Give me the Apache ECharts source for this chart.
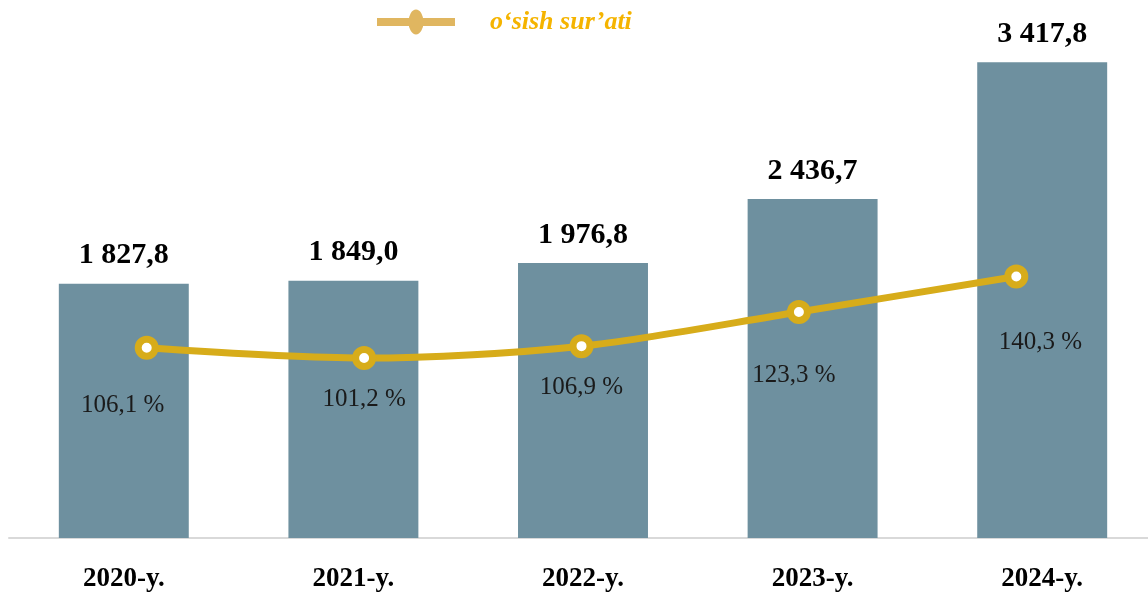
<!DOCTYPE html>
<html>
<head>
<meta charset="utf-8">
<script src="https://cdn.jsdelivr.net/npm/echarts@6/dist/echarts.min.js"></script>
<style>
    html, body {margin: 0; padding: 0; background: #fff;}
    #chart {width: 1148px; height: 592px;}
</style>
</head>
<body>
<div id="chart"></div>
<script>
var years = ['2020-y.', '2021-y.', '2022-y.', '2023-y.', '2024-y.'];
var volume = [1827.8, 1849.0, 1976.8, 2436.7, 3417.8];
var growth = [106.1, 101.2, 106.9, 123.3, 140.3];
var growthName = 'o‘sish sur’ati';
// label offsets under the line points
var growthLabelOffset = [[-24, 28], [0, 12], [0, 12], [-5, 34], [24, 37]];

function fmt(v, digits) {
    var s = v.toFixed(digits).split('.');
    var intPart = s[0].replace(/\B(?=(\d{3})+(?!\d))/g, ' ');
    return intPart + ',' + s[1];
}

var serif = '"Liberation Serif", "DejaVu Serif", serif';

var option = {
    animation: false,
    legend: {
        top: 4,
        left: 372,
        itemWidth: 78,
        itemHeight: 25,
        icon: 'path://M0,8.5 H78 V16.5 H0 Z M31.5,12.5 A7.5,12.5 0 1 1 46.5,12.5 A7.5,12.5 0 1 1 31.5,12.5 Z',
        data: [{name: growthName, itemStyle: {color: '#E0B660', borderWidth: 0}}],
        textStyle: {
            fontFamily: serif,
            fontSize: 26,
            fontWeight: 'bold',
            fontStyle: 'italic',
            color: '#F5B400',
            padding: [0, 0, 0, 30]
        }
    },
    grid: [
        {left: 9, width: 1148, top: 37, bottom: 54, outerBoundsMode: 'none'},
        {left: 38, right: 23, top: 37, bottom: 54, outerBoundsMode: 'none'}
    ],
    xAxis: [
        {
            type: 'category',
            gridIndex: 0,
            data: years,
            axisLine: {lineStyle: {color: '#D9D9D9', width: 2}},
            axisTick: {show: false},
            axisLabel: {
                margin: 28,
                fontFamily: serif,
                fontSize: 27,
                fontWeight: 'bold',
                color: '#000'
            }
        },
        {
            type: 'category',
            gridIndex: 1,
            data: years,
            show: false
        }
    ],
    yAxis: [
        {
            type: 'value',
            gridIndex: 0,
            min: 0,
            max: 3600,
            show: false,
            splitLine: {show: false}
        },
        {
            type: 'value',
            gridIndex: 1,
            min: 15,
            max: 255,
            show: false,
            splitLine: {show: false}
        }
    ],
    series: [
        {
            name: 'hajm',
            type: 'bar',
            xAxisIndex: 0,
            yAxisIndex: 0,
            barWidth: '56.6%',
            itemStyle: {color: '#6E909F'},
            label: {
                show: true,
                position: 'top',
                distance: 13,
                fontFamily: serif,
                fontSize: 30,
                fontWeight: 'bold',
                color: '#000',
                formatter: function (p) { return fmt(p.value, 1); }
            },
            data: volume
        },
        {
            name: growthName,
            type: 'line',
            xAxisIndex: 1,
            yAxisIndex: 1,
            smooth: 0.3,
            symbol: 'circle',
            symbolSize: 17,
            lineStyle: {color: '#D7AC1A', width: 7},
            itemStyle: {color: '#FFFFFF', borderColor: '#D7AC1A', borderWidth: 7},
            label: {
                show: true,
                position: 'bottom',
                fontFamily: serif,
                fontSize: 25,
                color: '#1a1a1a'
            },
            data: growth.map(function (v, i) {
                return {
                    value: v,
                    label: {
                        offset: growthLabelOffset[i],
                        formatter: fmt(v, 1) + ' %'
                    }
                };
            }),
            z: 5
        }
    ]
};

var panel = document.getElementById('chart');
var chart = echarts.init(panel);
chart.setOption(option);
</script>
</body>
</html>
